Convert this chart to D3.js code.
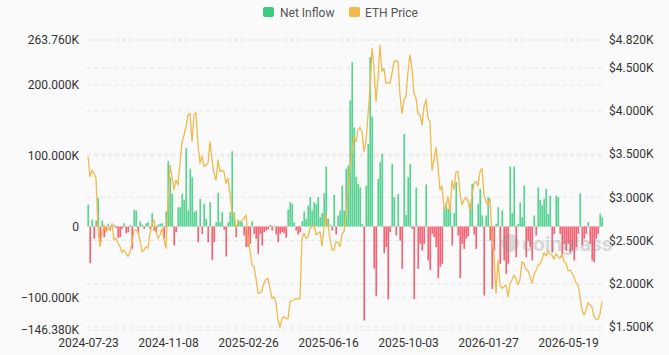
<!DOCTYPE html>
<html><head><meta charset="utf-8">
<script src="https://cdn.jsdelivr.net/npm/d3@7"></script>
<style>html,body{margin:0;padding:0;background:#fafafa;} svg{display:block;font-family:Roboto,"Noto Sans",sans-serif;}</style>
</head><body><svg id="c" width="669" height="355"></svg>
<script>
const tickLabels = ["2024-07-23","2024-11-08","2025-02-26","2025-06-16","2025-10-03","2026-01-27","2026-05-19"];
const tickIndex = [0,40,80,120,160,200,240];
const leftTicks = [263.76, 200, 100, 0, -100, -146.38];
const rightTicks = [4820, 4500, 4000, 3500, 3000, 2500, 2000, 1500];
// Net inflow, thousands of ETH
const netInflow = [
31.1,-51.9,9.9,-17.4,8.5,40.5,-24.5,8.5,-15,-8,3.8,-5.7,2,2.4,-2,-16,-15,-3.3,4.7,-9.4,
-8,1.4,-31.6,23.6,22.6,-10.4,7.5,2.8,-3.3,4.7,6.1,-4.2,18.9,-5.7,-8,2.8,3.8,4.7,-17.4,21.2,
92.4,69.8,46.2,-26.9,-8,27.3,27.3,46.2,37.7,110.8,22.6,81.6,69.8,20.3,22.6,-22.2,39.1,-10.4,32,10.8,
-22.2,34.4,-47.1,-22.2,6.1,47.6,6.1,20.3,-4.7,-42.4,6.1,20.3,106.5,20,-15.1,9.4,7.5,6.1,-12.7,-29.2,
-28.3,-24.5,7.1,-10.4,-17.4,-38.7,-10.4,-26.9,-8,-5.7,-4.2,2.4,-5.7,1.4,-11.3,-22.2,-10.4,-8,-9.4,-16,
24,34.4,32,6,-5.7,-11.3,-8,7.5,21.2,10.8,29.7,41.5,22.6,34.4,32,41.5,13,18.9,47,84.8,
10.8,2.4,-5.7,44.8,-11.3,15.6,22.6,57.9,22.6,81.6,86.3,178.2,232.4,140,69.8,60.3,55.2,3.8,-132.9,57.9,
117,239.5,155.6,-59.4,-98.5,67,91,102.8,-37.7,-29.2,-103.2,-8,88.7,41.5,-12.7,46,-20,-59.9,131,16.5,
69.8,88.7,-3.3,-102.7,55.2,-59.9,-24.5,-34,-24.5,59.4,-48.1,-61.3,-10.4,-15,-29.2,-73.1,-57,-52.8,27.3,34.4,
25,25,-26.9,18.9,62.7,-12.7,-73.1,-24.5,-31.6,-17.4,-14.1,33,60.3,-11.3,-31.6,32,53.3,15.6,-97.5,15.6,
41.5,-19.8,-88.2,-34,3.8,27.3,-52.8,22.6,-48.1,-66.9,-52.8,84.8,18.9,84.8,-43.4,3.8,34.4,13,57.9,-43.4,
-20,-29.2,-48.1,15.6,-12.7,55.2,37.7,29.7,39.1,53.3,17.9,43.4,-36.8,-10.4,43.8,41.5,-10.4,-43.4,-24.5,-34,
-24.5,-36.8,-34,-48.1,-29.2,-10.4,47,-26.9,-17.4,-10.4,6.1,-24.5,-48.1,-50.4,-17.4,-10.4,17.9,13
];
// ETH price, USD
const ethPrice = [
3469,3238,3315,3277,3219,2621,2428,2582,2678,2601,2640,2621,2698,2505,2524,2466,2428,2358,2389,2351,
2312,2370,2466,2621,2621,2601,2505,2370,2389,2428,2408,2582,2698,2736,2601,2524,2563,2640,2505,2408,
2929,3373,3238,3084,3199,3142,3392,3643,3720,3817,3952,3971,3643,3952,3979,3605,3392,3477,3354,3373,
3392,3643,3431,3277,3199,3431,3296,3315,3296,3161,3219,3045,2813,2813,2640,2706,2717,2729,2756,2794,
2524,2389,2215,2196,2061,1887,1895,1918,2003,2049,2061,1945,1830,1849,1779,1579,1495,1598,1618,1594,
1594,1791,1799,1810,1830,1818,1830,2524,2582,2524,2543,2640,2659,2678,2563,2582,2601,2435,2640,2794,
2678,2524,2389,2389,2486,2474,2428,2574,2601,2775,3084,3334,3527,3701,3643,3778,3809,3759,3527,3643,
3952,4249,4724,4492,4106,4376,4760,4453,4492,4318,4326,4318,4434,4569,4581,4569,4183,3971,4126,4164,
4453,4646,4492,4203,4145,3963,3952,3836,4048,4133,3913,3875,3315,3431,3578,3354,3084,3130,2852,2891,
3006,2833,3192,3091,3296,3296,3045,2910,2968,2999,2960,2852,3026,3161,3180,3130,3296,3334,3026,2949,
2910,2987,2543,2331,1887,2273,1984,1945,1964,1984,1849,1996,2042,2100,2061,1984,2049,2254,2235,2165,
2150,2081,2003,2107,2150,2215,2227,2281,2358,2320,2381,2343,2331,2281,2343,2312,2293,2343,2254,2235,
2150,2157,2119,2073,2011,1984,1849,1695,1637,1687,1779,1752,1725,1618,1587,1587,1648,1791
];

const GREEN = "#3ccb7f", RED = "#f2495c", GOLD = "#f0ba4e";
const svg = d3.select("#c");
const N = ethPrice.length;
const x = d3.scaleLinear().domain([0, N - 1]).range([88, 602]);
const yL = d3.scaleLinear().domain([-146.38, 263.76]).range([330, 40]);
const yR = d3.scaleLinear().domain([1463, 4820]).range([330, 40]);

// gridlines
const grid = svg.append("g");
leftTicks.forEach(v => grid.append("line").attr("x1", 87).attr("x2", 603)
  .attr("y1", yL(v)).attr("y2", yL(v)).attr("stroke", "#e6e6e6").attr("stroke-dasharray", "4,3"));
rightTicks.forEach(v => grid.append("line").attr("x1", 87).attr("x2", 603)
  .attr("y1", yR(v)).attr("y2", yR(v)).attr("stroke", "#e6e6e6").attr("stroke-dasharray", "4,3"));

// axes
const fmtL = v => v === 0 ? "0" : d3.format(".3f")(v) + "K";
const fmtR = v => "$" + d3.format(".3f")(v / 1000) + "K";
const gL = svg.append("g").attr("transform", "translate(87,0)")
  .call(d3.axisLeft(yL).tickValues(leftTicks).tickFormat(fmtL).tickSize(0).tickPadding(8));
const gR = svg.append("g").attr("transform", "translate(602,0)")
  .call(d3.axisRight(yR).tickValues(rightTicks).tickFormat(fmtR).tickSize(0).tickPadding(7));
const gX = svg.append("g").attr("transform", "translate(0,330)")
  .call(d3.axisBottom(x).tickValues(tickIndex).tickFormat((d, i) => tickLabels[i]).tickSize(0).tickPadding(8));
[gL, gR, gX].forEach(g => {
  g.select(".domain").remove();
  g.selectAll("text").attr("fill", "#333").style("font-size", "12px").style("font-family", "Roboto, sans-serif");
});

// bars
svg.append("g").selectAll("rect").data(netInflow).join("rect")
  .attr("x", (d, i) => x(i) - 0.6)
  .attr("width", 1.7)
  .attr("y", d => Math.min(yL(d), yL(0)))
  .attr("height", d => Math.abs(yL(d) - yL(0)))
  .attr("fill", d => d >= 0 ? GREEN : RED)
  .attr("fill-opacity", 0.85);

// watermark
const wm = svg.append("g").attr("opacity", 0.3);
wm.append("circle").attr("cx", 510).attr("cy", 243).attr("r", 9).attr("fill", "#8a8a8a");
wm.append("text").attr("x", 522).attr("y", 251).text("coinglass")
  .attr("fill", "#8a8a8a").style("font-size", "21px").style("font-weight", "bold").style("font-family", "Roboto, sans-serif");

// price line
svg.append("path").datum(ethPrice)
  .attr("d", d3.line().x((d, i) => x(i)).y(d => yR(d)))
  .attr("fill", "none").attr("stroke", GOLD).attr("stroke-width", 1.3).attr("stroke-linejoin", "round");

// legend
const lg = svg.append("g");
lg.append("rect").attr("x", 263).attr("y", 7).attr("width", 11).attr("height", 10).attr("rx", 2).attr("fill", GREEN);
lg.append("text").attr("x", 280).attr("y", 16.5).text("Net Inflow").attr("fill", "#555").style("font-size", "12px");
lg.append("rect").attr("x", 349).attr("y", 7).attr("width", 11).attr("height", 10).attr("rx", 2).attr("fill", GOLD);
lg.append("text").attr("x", 365).attr("y", 16.5).text("ETH Price").attr("fill", "#555").style("font-size", "12px");
</script></body></html>
